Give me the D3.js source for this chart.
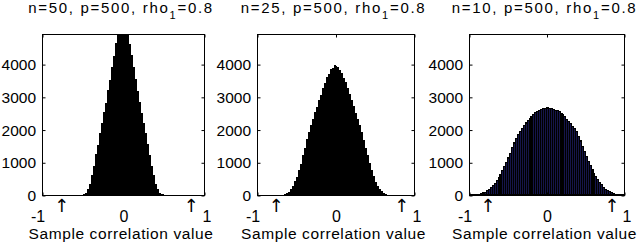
<!DOCTYPE html>
<html>
<head>
<meta charset="utf-8">
<script src="https://cdn.jsdelivr.net/npm/d3@7"></script>
<style>
  body { margin: 0; background: #fff; }
  text { font-family: "Liberation Sans", Arial, sans-serif; fill: #000; }
</style>
</head>
<body>
<div id="chart"></div>
<script>
// Histogram of sample correlations, 80 bins of width 0.025 on [-1, 1]
var binStart = -1;
var binWidth = 0.025;

var sampleSizes = [50, 25, 10];
var titleHead = ["n=50,  p=500, rho", "n=25,  p=500, rho", "n=10,  p=500, rho"];
var titleTail = "=0.8";
var yTicks = [0, 1000, 2000, 3000, 4000];
var xTicks = [-1, 0, 1];
var arrowMarks = [-0.8, 0.8];
var xLabel = "Sample correlation value";

var countsN50 = [
  0,0,0,0,0,0,0,0,0,0,0,0,0,0,0,0,0,0,0,
  4,25,60,180,340,610,880,1250,1540,1900,2190,2540,2820,3200,3520,3920,4260,4640,4950,5320,5680,
  5650,5300,4970,4620,4280,3900,3540,3180,2840,2520,2210,1890,1560,1230,900,600,350,170,70,20,5,
  0,0,0,0,0,0,0,0,0,0,0,0,0,0,0,0,0,0,0
];
var countsN25 = [
  0,0,0,0,0,0,0,0,0,0,0,0,
  3,10,28,55,100,190,270,420,560,770,960,1220,1430,1700,1910,2150,2310,2530,2690,2910,3070,3280,3420,3600,3700,3840,3890,3960,
  3950,3900,3830,3720,3590,3440,3270,3090,2900,2710,2520,2330,2140,1930,1690,1450,1210,975,760,570,410,280,180,110,60,30,12,4,
  0,0,0,0,0,0,0,0,0,0,0,0
];
var countsN10 = [
  0,1,3,7,14,24,40,62,90,125,170,225,290,360,440,530,630,740,860,990,
  1130,1280,1440,1590,1730,1850,1950,2040,2120,2200,2280,2350,2410,2470,2520,2560,2590,2620,2640,2650,
  2660,2655,2640,2620,2595,2570,2540,2500,2450,2390,2320,2250,2180,2100,2020,1930,1800,1650,1490,1330,
  1170,1030,900,780,670,570,480,390,310,240,180,130,95,65,42,25,14,7,3,1
];

var allCounts = [countsN50, countsN25, countsN10];

// panel boxes (left, right) in pixels
var panelX = [[42, 204], [257, 414], [469, 624]];
var boxTop = 34, boxBottom = 195;
var barFill = ["#000", "#000", "#15154a"];

var svgWidth = 640, svgHeight = 245;

var svg = d3.select("#chart")
  .append("svg")
  .attr("width", svgWidth)
  .attr("height", svgHeight);

svg.append("rect")
  .attr("width", svgWidth)
  .attr("height", svgHeight)
  .attr("fill", "#fff");

var yScale = d3.scaleLinear()
  .domain([0, 4920])
  .range([boxBottom, boxTop]);

sampleSizes.forEach(function(n, p) {
  var counts = allCounts[p];
  var xScale = d3.scaleLinear()
    .domain([-1, 1])
    .range(panelX[p]);

  var g = svg.append("g");

  var clipId = "clip" + p;
  g.append("clipPath").attr("id", clipId)
    .append("rect")
    .attr("x", panelX[p][0])
    .attr("y", boxTop)
    .attr("width", panelX[p][1] - panelX[p][0])
    .attr("height", boxBottom - boxTop);

  // bars
  g.append("g")
    .attr("clip-path", "url(#" + clipId + ")")
    .selectAll("rect")
    .data(counts)
    .enter()
    .append("rect")
    .attr("x", (d, i) => xScale(binStart + i * binWidth))
    .attr("width", (d, i) => xScale(binStart + (i + 1) * binWidth) - xScale(binStart + i * binWidth))
    .attr("y", d => yScale(d))
    .attr("height", d => boxBottom - yScale(d))
    .attr("fill", barFill[p])
    .attr("stroke", p == 2 ? "#000" : "none")
    .attr("stroke-width", p == 2 ? 1.1 : 0)
    .attr("shape-rendering", "crispEdges");

  // box
  g.append("rect")
    .attr("x", panelX[p][0] + 0.5)
    .attr("y", boxTop + 0.5)
    .attr("width", panelX[p][1] - panelX[p][0])
    .attr("height", boxBottom - boxTop)
    .attr("fill", "none")
    .attr("stroke", "#000")
    .attr("stroke-width", 1);

  // inward ticks on all sides
  var leftAxis = d3.axisLeft(yScale).tickValues(yTicks).tickSize(-3).tickFormat("");
  var rightAxis = d3.axisRight(yScale).tickValues(yTicks).tickSize(-3).tickFormat("");
  var bottomAxis = d3.axisBottom(xScale).tickValues(xTicks).tickSize(-3).tickFormat("");
  var topAxis = d3.axisTop(xScale).tickValues(xTicks).tickSize(-3).tickFormat("");
  [
    [leftAxis, `translate(${panelX[p][0] + 0.5},0.5)`],
    [rightAxis, `translate(${panelX[p][1] + 0.5},0.5)`],
    [bottomAxis, `translate(0.5,${boxBottom + 0.5})`],
    [topAxis, `translate(0.5,${boxTop + 0.5})`]
  ].forEach(function(a) {
    var ax = g.append("g").attr("transform", a[1]).call(a[0]);
    ax.select(".domain").remove();
    ax.selectAll("line").attr("stroke", "#000");
  });

  // y tick labels
  g.selectAll(".ylab")
    .data(yTicks)
    .enter()
    .append("text")
    .attr("x", panelX[p][0] - 6)
    .attr("y", d => yScale(d) + 6)
    .attr("text-anchor", "end")
    .attr("font-size", 15.5)
    .text(d => d);

  // x tick labels
  g.selectAll(".xlab")
    .data(xTicks)
    .enter()
    .append("text")
    .attr("x", d => xScale(d) + (d < 0 ? -4 : (d > 0 ? 3 : 1)))
    .attr("y", 222)
    .attr("text-anchor", "middle")
    .attr("font-size", 16)
    .text(d => d);

  // arrows at +-0.8
  g.selectAll(".arrow")
    .data(arrowMarks)
    .enter()
    .append("text")
    .attr("x", d => xScale(d) - 4)
    .attr("y", 212)
    .attr("font-size", 18)
    .style("font-family", "'DejaVu Sans', sans-serif")
    .text("\u2191");

  // x label
  g.append("text")
    .attr("x", (panelX[p][0] + panelX[p][1]) / 2 - 2)
    .attr("y", 239)
    .attr("text-anchor", "middle")
    .attr("font-size", 15.5)
    .attr("letter-spacing", 0.6)
    .text(xLabel);

  // title with subscript
  var title = g.append("text")
    .attr("x", (panelX[p][0] + panelX[p][1]) / 2 - 2)
    .attr("y", 13)
    .attr("text-anchor", "middle")
    .attr("font-size", 15)
    .attr("letter-spacing", 1.7);
  title.append("tspan").text(titleHead[p]);
  title.append("tspan").attr("dy", 6).attr("font-size", 11).text("1");
  title.append("tspan").attr("dy", -6).text(titleTail);
});
</script>
</body>
</html>
